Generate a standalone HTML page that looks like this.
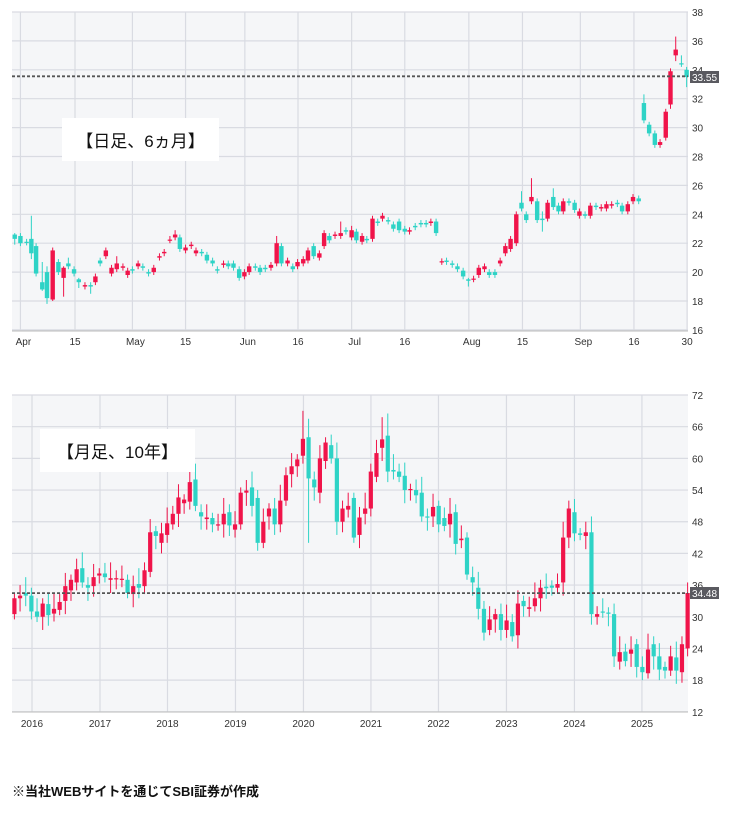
<!DOCTYPE html>
<html><head><meta charset="utf-8"><style>
body{margin:0;background:#fff;width:745px;height:813px;overflow:hidden;font-family:"Liberation Sans","Noto Sans CJK JP",sans-serif}
svg{position:absolute;left:0;top:0}
.box{position:absolute;background:#fff;font-size:17px;display:flex;align-items:center;justify-content:center;color:#111}
.foot{position:absolute;left:12px;top:781px;font-size:13px;font-weight:bold;color:#111}
</style></head><body>
<svg id="s" width="745" height="813" xmlns="http://www.w3.org/2000/svg"></svg>
<div class="box" style="left:62px;top:118px;width:157px;height:43px">【日足、6ヵ月】</div>
<div class="box" style="left:40px;top:429px;width:155px;height:43px">【月足、10年】</div>
<div class="foot">※当社WEBサイトを通じてSBI証券が作成</div>
<script>
const s=document.getElementById('s');let h='';
const R='#f0144a',T='#2ed3c6',G='#d9dbe2';
function rect(x,y,w,hh,f){h+=`<rect x="${x}" y="${y}" width="${w}" height="${hh}" fill="${f}"/>`}
function line(x1,y1,x2,y2,c,w,d){h+=`<line x1="${x1}" y1="${y1}" x2="${x2}" y2="${y2}" stroke="${c}" stroke-width="${w||1}" ${d?'stroke-dasharray="'+d+'"':''}/>`}
function text(x,y,t,a){h+=`<text x="${x}" y="${y}" font-size="10" fill="#333" text-anchor="${a||'start'}">${t}</text>`}
// chart 1
const L=12,Rt=688;
rect(L,12,Rt-L,319,'#f5f6f8');
const y1=p=>12+(38-p)*14.45, x1=z=>75+(z-157)*0.4745;
for(let p=16;p<=38;p+=2){line(L,y1(p),Rt,y1(p),G,1.2);text(692,y1(p)+4,p)}
const vx=[[42,'Apr'],[157,'15'],[278,'May'],[390,'15'],[515,'Jun'],[627,'16'],[740,'Jul'],[852,'16'],[987,'Aug'],[1100,'15'],[1222,'Sep'],[1335,'16'],[1447,'30']];
vx.forEach(([z,t])=>{let x=x1(z);line(x,12,x,331,G,1.2);text(x+(t.length>2?3:0),345,t,'middle')});
line(L,331,Rt,331,'#bbb',1);
const d1=`30 22.6 22.3 22.7 21.9;42 22.5 22.0;55 22.1 22.05;65 22.3 21.3 23.9 20.9;75 21.8 19.9;88 19.3 18.8 20.7 18.7;98 20.0 18.2 20.4 17.8;110 18.1 21.5 21.7 18;122 20.7 20.0;133 19.6 20.3 20.4 18.3;143 20.6 20.4 21.0;155 20.2 19.9;165 19.5 19.3 19.6 18.9;178 19.0 19.1;190 19.1 19.0 19.3 18.5;200 19.3 19.7;210 20.8 20.6;222 21.1 21.5;234 19.9 20.3;245 20.2 20.6 21.1;258 20.3 20.4;268 19.8 20.1;278 20.2 20.1;290 20.4 20.6;300 20.4 20.3;312 20.0 19.9;323 20.0 20.3;335 21.0 21.1;345 21.3 21.4;357 22.2 22.25 22.5;368 22.4 22.6 22.9;378 22.4 21.6;390 21.5 21.7;402 21.8 21.9;412 21.3 21.5;424 21.4 21.3;435 21.2 20.8;447 20.8 20.6;457 20.2 20.1;470 20.5 20.6;480 20.6 20.4;491 20.6 20.3;503 20.2 19.6;514 19.7 20.0;524 20.0 20.4;537 20.4 20.3;547 20.3 20.0;558 20.3 20.2;570 20.3 20.5;582 20.6 22.0 22.5;592 21.8 20.6;605 20.6 20.8;616 20.4 20.2;626 20.4 20.7;638 20.6 20.9;648 20.8 21.5;660 21.8 21.1;672 21.0 21.3;682 21.8 22.7;693 22.5 22.2;705 22.5 22.6;717 22.5 22.7 23.5;728 22.9 22.8;740 22.4 22.9 23.2;750 22.8 22.2;762 22.1 22.5;772 22.3 22.2;784 22.3 23.7;795 23.5 23.4;805 23.7 23.9;817 23.6 23.5;828 23.3 23.0;840 23.5 22.9;852 23.0 22.8;862 22.8 22.9;874 23.2 23.1;886 23.4 23.3;897 23.4 23.3;907 23.4 23.5;918 23.5 22.7;930 20.7 20.75;940 20.8 20.7;952 20.6 20.5;963 20.4 20.2;975 20.1 19.7;986 19.5 19.4 19.6 19;997 19.5 19.55;1008 19.8 20.3;1020 20.2 20.4;1030 20.0 19.8;1042 20.0 19.8;1053 20.6 20.8;1064 21.3 21.8;1075 21.6 22.3;1087 22.0 24.0;1098 24.8 24.4 25.6;1108 24.0 23.6;1119 24.9 25.2 26.5;1131 24.9 23.6;1142 23.7 23.6 24.2 22.8;1153 23.7 24.8;1165 25.2 24.5 25.8;1176 24.6 24.2;1186 24.2 24.9;1198 24.9 24.8;1210 24.8 24.3;1220 23.9 24.2;1232 24.0 23.9;1243 23.9 24.6;1255 24.6 24.5;1266 24.4 24.5;1277 24.4 24.7;1288 24.6 24.7;1300 24.8 24.7;1310 24.6 24.2;1322 24.2 24.7;1333 24.9 25.2 25.4;1345 25.1 24.9;1356 31.7 30.5 32.3;1367 30.2 29.6;1379 29.6 28.8;1390 28.8 29.0;1402 29.3 31.1;1412 31.6 33.9 34.1 31.3;1423 35.0 35.4 36.3 34.6;1435 34.45 34.4 35;1446 34.0 33.5 34.2 32.8`;
function draw(data,xf,yf,w,def){data.split(';').forEach(r=>{let v=r.trim().split(/\s+/).map(Number);let [z,o,c,hi,lo]=v;
 let up=c>=o, col=(z==1345||z==1446||z==1435||v.length&&!up)?T:R; if(up)col=R; if(z==1345||z==1435||z==1446)col=T;
 let mx=Math.max(o,c),mn=Math.min(o,c);if(hi===undefined)hi=mx+def;if(lo===undefined)lo=mn-def;
 let x=xf(z);line(x,yf(hi),x,yf(lo),col,1);let yt=yf(mx),yb=yf(mn);rect(x-w/2,yt,w,Math.max(1.2,yb-yt),col)})}
draw(d1,x1,y1,4.4,0.2);
line(L,y1(33.55),Rt,y1(33.55),'#555',1.8,'3,2');
rect(690,71,29,12,'#5a5a60');h+=`<text x="704.5" y="81" font-size="10" fill="#fff" text-anchor="middle">33.55</text>`;
// chart 2
const T2=395;
rect(L,T2,Rt-L,317,'#f5f6f8');
const y2=p=>395+(72-p)*5.28, x2=z=>32+(z-67)*0.4754;
for(let p=12;p<=72;p+=6){line(L,y2(p),Rt,y2(p),G,1.2);text(692,y2(p)+4,p)}
[67,210,352,495,638,780,922,1065,1208,1350].forEach((z,i)=>{let x=x2(z);line(x,T2,x,712,G,1.2);text(x,727,2016+i,'middle')});
line(L,712,Rt,712,'#bbb',1);
const m=`30.5 33.5;33.5 34.0;34.5 34.0;34 31;31 30;30 32.5;32.4 30.3;30.6 31.5;31.3 32.8;33 35.8;35 37;36.5 39;39.2 36.5;36 35.5;35.8 37.5;37.8 38.2;38.2 37.5;37 37.3;37.2 37.3;37.1 37.2;37 34.5;34.3 35.8;36.2 35.5;35.8 38.8;38.5 46;46.2 45.3;44 45.8;45.5 47.7;47.5 49.5;49.5 52.6;51.5 52.2;51.8 55.5;56 51;49.8 49;48.5 48.8;48.7 47.5;47.3 47.5;47.5 49.5;49.8 47.3;46.5 47.5;47.5 53.5;53.5 53.9;54.5 51;52.5 44;44 48;49 50.5;50.5 47.5;47.5 52;52 56.8;57 58.5;58.5 59.8;60.5 63.7;64 56.2;56 54.5;53.5 60;59.5 63;62.5 60;60 48;48 50.5;50.3 51;52.5 45;45.5 48.8;49.5 50.5;50.5 57.5;56.5 61;62 63.6;64.3 57.5;57.8 57.5;57.5 56.5;56.7 54;54 54.2;54 53;53.5 49;49 48.8;49 50.8;51 47.5;48.7 47.2;47.5 49.5;49.8 43.8;44.5 44.8;45 38;37.5 36.5;35.5 31.5;31.5 27;27.5 29.5;29.5 30.5;30.5 27.5;27.5 29.3;29 26.3;26.5 32.5;33 32;31.5 31.8;32 33.5;33.5 35.5;35.7 35.4;35.9 35.5;35.5 36.2;36.5 45;45 50.5;49.8 45.8;45.8 45.5;45.3 46;46 30.5;30 30.5;31 30.8;30.8 30.7;30.5 22.5;21.5 23.3;23.4 21.6;23 23.8;24.8 20.5;20.5 19.5;19.3 23.8;24.8 22.5;22.5 20;20.5 19.8;19.8 22.5;22.3 19.8;19.5 24.8;24 34.5`.split(';');
m.forEach((r,i)=>{let [o,c]=r.split(' ').map(Number);let z=30+11.9*i;let col=c>=o?R:T;
 let mx=Math.max(o,c),mn=Math.min(o,c);let hi=mx+1+((i*7)%5)*0.5,lo=mn-1-((i*3)%4)*0.5;
 if(i==51)hi=69;if(i==52)hi=67.5;if(i==65)hi=67.8;if(i==66)hi=68.5;if(i==52)lo=44;if(i==119)hi=36.5;
 let x=x2(z);line(x,y2(hi),x,y2(lo),col,1);let yt=y2(mx),yb=y2(mn);rect(x-2.1,yt,4.2,Math.max(1.2,yb-yt),col)});
line(L,y2(34.48),Rt,y2(34.48),'#555',1.8,'3,2');
rect(690,587,29,12,'#5a5a60');h+=`<text x="704.5" y="597" font-size="10" fill="#fff" text-anchor="middle">34.48</text>`;
s.innerHTML=h;
</script>
</body></html>
